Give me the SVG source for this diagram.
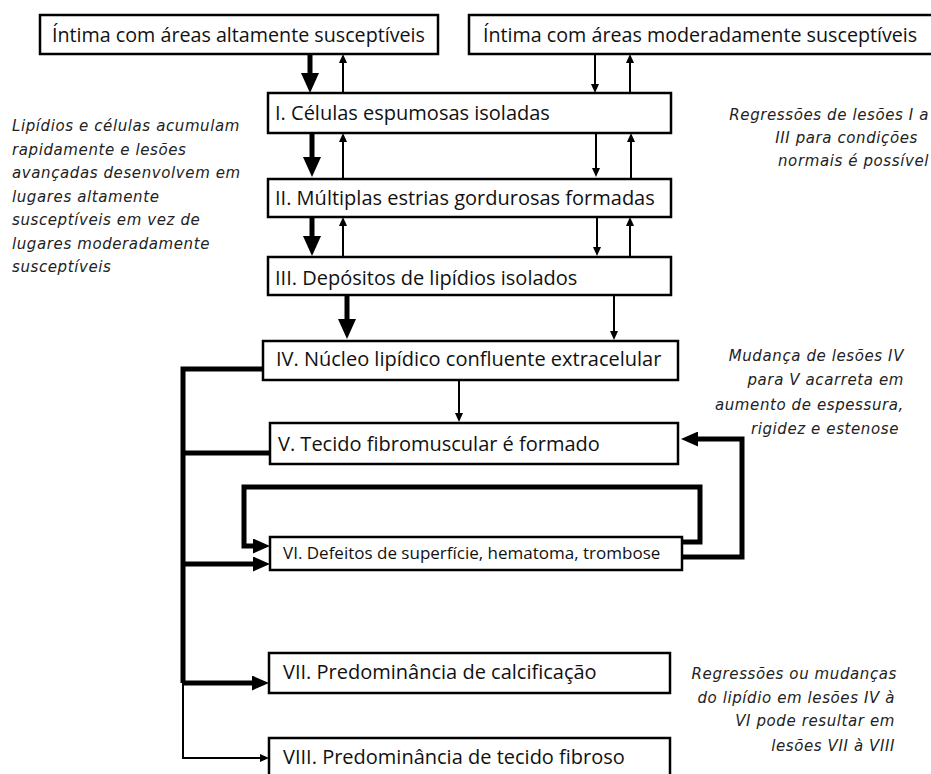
<svg xmlns="http://www.w3.org/2000/svg" width="931" height="774" viewBox="0 0 931 774">
<style>
.box{fill:#fff;stroke:#000;stroke-width:2.5}
.lbl{font-family:"Open Sans","Noto Sans",sans-serif;font-size:20px;fill:#111}
.top{font-size:19.7px}
.sm{font-size:17px}
.note{font-family:"DejaVu Sans","Noto Sans",sans-serif;font-style:italic;font-size:15px;letter-spacing:0.6px;fill:#222}
.thick{stroke:#000;stroke-width:5;fill:none}
.thin{stroke:#000;stroke-width:2;fill:none}
</style>
<defs>
<marker id="hThick" markerUnits="userSpaceOnUse" markerWidth="20" markerHeight="18" refX="2" refY="9" orient="auto"><path d="M0,0 L20,9 L0,18 z" fill="#000"/></marker>
<marker id="hMed" markerUnits="userSpaceOnUse" markerWidth="17" markerHeight="15" refX="2" refY="7.5" orient="auto"><path d="M0,0 L17,7.5 L0,15 z" fill="#000"/></marker>
<marker id="hThin" markerUnits="userSpaceOnUse" markerWidth="9" markerHeight="8" refX="2" refY="4" orient="auto"><path d="M0,0 L9,4 L0,8 z" fill="#000"/></marker>
</defs>
<rect width="931" height="774" fill="#fff"/>
<g id="connectors">
<line class="thick" x1="310" y1="54" x2="310" y2="75" marker-end="url(#hThick)"/>
<line class="thin" x1="343" y1="93" x2="343" y2="61" marker-end="url(#hThin)"/>
<line class="thin" x1="595" y1="54" x2="595" y2="86" marker-end="url(#hThin)"/>
<line class="thin" x1="630" y1="93" x2="630" y2="61" marker-end="url(#hThin)"/>
<line class="thick" x1="312" y1="133" x2="312" y2="159" marker-end="url(#hThick)"/>
<line class="thin" x1="343" y1="179" x2="343" y2="140" marker-end="url(#hThin)"/>
<line class="thin" x1="596" y1="133" x2="596" y2="170" marker-end="url(#hThin)"/>
<line class="thin" x1="631" y1="179" x2="631" y2="140" marker-end="url(#hThin)"/>
<line class="thick" x1="312" y1="217" x2="312" y2="238" marker-end="url(#hThick)"/>
<line class="thin" x1="343" y1="257" x2="343" y2="224" marker-end="url(#hThin)"/>
<line class="thin" x1="597" y1="217" x2="597" y2="249" marker-end="url(#hThin)"/>
<line class="thin" x1="630" y1="257" x2="630" y2="224" marker-end="url(#hThin)"/>
<line class="thick" x1="347" y1="295" x2="347" y2="321" marker-end="url(#hThick)"/>
<line class="thin" x1="614" y1="295" x2="614" y2="333" marker-end="url(#hThin)"/>
<line class="thin" x1="459" y1="380" x2="459" y2="415" marker-end="url(#hThin)"/>
<path class="thick" d="M263,369 H183 V683"/>
<path class="thick" d="M183,453 H270"/>
<path class="thick" d="M183,564 H255" marker-end="url(#hMed)"/>
<path class="thick" d="M183,683 H254" marker-end="url(#hMed)"/>
<path class="thin" d="M183,683 V758 H262" marker-end="url(#hThin)"/>
<path class="thick" d="M682,542 H700 V487 H244 V546 H255" marker-end="url(#hMed)"/>
<path class="thick" d="M682,557 H742 V439 H696" marker-end="url(#hMed)"/>
</g>
<g id="n_altamente"><rect class="box" x="40" y="15" width="398" height="39"/><text class="lbl top" x="52" y="42">Íntima com áreas altamente susceptíveis</text></g>
<g id="n_moderadamente"><rect class="box" x="469" y="15" width="466" height="39"/><text class="lbl top" x="483" y="42">Íntima com áreas moderadamente susceptíveis</text></g>
<g id="n_I"><rect class="box" x="268" y="93" width="403" height="40"/><text class="lbl" x="275" y="120">I. Células espumosas isoladas</text></g>
<g id="n_II"><rect class="box" x="268" y="179" width="403" height="38"/><text class="lbl" x="275" y="205">II. Múltiplas estrias gordurosas formadas</text></g>
<g id="n_III"><rect class="box" x="268" y="257" width="403" height="38"/><text class="lbl" x="275" y="285">III. Depósitos de lipídios isolados</text></g>
<g id="n_IV"><rect class="box" x="263" y="341" width="415" height="39"/><text class="lbl" x="276" y="366">IV. Núcleo lipídico confluente extracelular</text></g>
<g id="n_V"><rect class="box" x="270" y="423" width="408" height="41"/><text class="lbl" x="278" y="451">V. Tecido fibromuscular é formado</text></g>
<g id="n_VI"><rect class="box" x="270" y="537" width="412" height="33"/><text class="lbl sm" x="283" y="559">VI. Defeitos de superfície, hematoma, trombose</text></g>
<g id="n_VII"><rect class="box" x="269" y="653" width="401" height="40"/><text class="lbl" x="283" y="679">VII. Predominância de calcificação</text></g>
<g id="n_VIII"><rect class="box" x="269" y="738" width="401" height="45"/><text class="lbl" x="283" y="764">VIII. Predominância de tecido fibroso</text></g>
<g id="notes">
<text class="note" x="12" y="131">Lipídios e células acumulam</text>
<text class="note" x="12" y="155">rapidamente e lesões</text>
<text class="note" x="12" y="178">avançadas desenvolvem em</text>
<text class="note" x="12" y="202">lugares altamente</text>
<text class="note" x="12" y="225">susceptíveis em vez de</text>
<text class="note" x="12" y="249">lugares moderadamente</text>
<text class="note" x="12" y="272">susceptíveis</text>
<text class="note" text-anchor="end" x="929" y="120">Regressões de lesões I a</text>
<text class="note" text-anchor="end" x="918" y="143">III para condições</text>
<text class="note" text-anchor="end" x="929" y="166">normais é possível</text>
<text class="note" text-anchor="end" x="904" y="361">Mudança de lesões IV</text>
<text class="note" text-anchor="end" x="904" y="385">para V acarreta em</text>
<text class="note" text-anchor="end" x="904" y="410">aumento de espessura,</text>
<text class="note" text-anchor="end" x="899" y="434">rigidez e estenose</text>
<text class="note" text-anchor="end" x="897" y="679">Regressões ou mudanças</text>
<text class="note" text-anchor="end" x="895" y="703">do lipídio em lesões IV à</text>
<text class="note" text-anchor="end" x="895" y="726">VI pode resultar em</text>
<text class="note" text-anchor="end" x="895" y="751">lesões VII à VIII</text>
</g>
</svg>
